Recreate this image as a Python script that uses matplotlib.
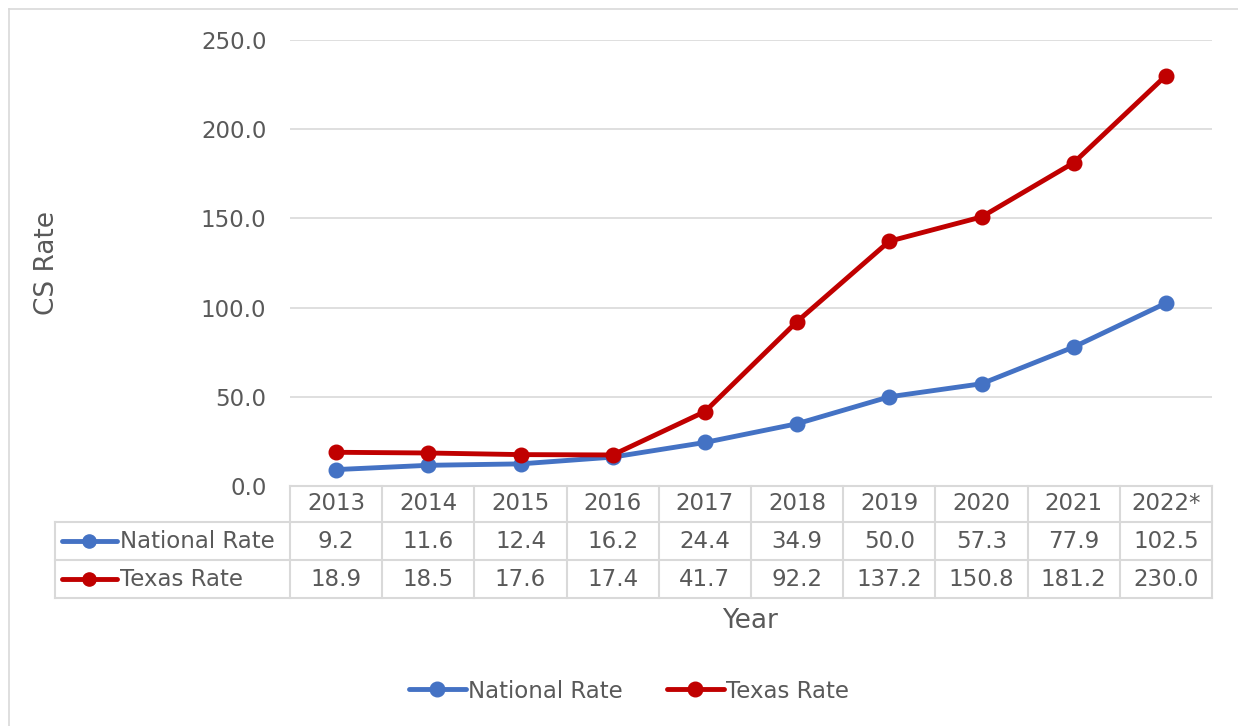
import matplotlib.pyplot as plt
import matplotlib.transforms as mtrans
from matplotlib.lines import Line2D

years = ["2013", "2014", "2015", "2016", "2017", "2018", "2019", "2020", "2021", "2022*"]
national = [9.2, 11.6, 12.4, 16.2, 24.4, 34.9, 50.0, 57.3, 77.9, 102.5]
texas = [18.9, 18.5, 17.6, 17.4, 41.7, 92.2, 137.2, 150.8, 181.2, 230.0]
series = [("National Rate", national, "#4472C4"), ("Texas Rate", texas, "#C00000")]

TXT = "#595959"
GRID = "#D9D9D9"
FS = 16.5
plt.rcParams["font.family"] = ["DejaVu Sans"]

fig = plt.figure(figsize=(12.38, 7.26), dpi=100)
ax = fig.add_axes([290 / 1238, 1 - 486 / 726, 922 / 1238, 446 / 726])

x = list(range(len(years)))
for name, vals, col in series:
    ax.plot(x, vals, color=col, lw=3.5, marker="o", ms=10.5, label=name,
            solid_capstyle="round", zorder=3, clip_on=False)

ax.set_xlim(-0.5, len(years) - 0.5)
ax.set_ylim(0, 250)
ax.set_yticks(range(0, 251, 50))
ax.set_yticklabels([f"{v:.1f}" for v in range(0, 251, 50)], fontsize=FS, color=TXT)
ax.tick_params(axis="y", length=0, pad=17)
ax.set_xticks([])
ax.grid(axis="y", color=GRID, lw=1.2)
ax.set_axisbelow(True)
for s in ax.spines.values():
    s.set_visible(False)
ax.set_ylabel("CS Rate", fontsize=19, color=TXT, labelpad=0)
ax.yaxis.set_label_coords(-0.2495, 0.5)

# data table under the axes
tr = mtrans.blended_transform_factory(ax.transData, ax.transAxes)
px = 1 / 446
y_top, y_h, y_r1, y_r2 = 0, -36 * px, -74 * px, -112 * px
x0, x1 = -0.5, len(years) - 0.5
xl = x0 - 235 / 92.2
lk = dict(color=GRID, lw=1.5, transform=tr, clip_on=False)
ax.plot([x0, x0], [y_top, y_r2], **lk)
for i in range(len(years)):
    ax.plot([i + 0.5, i + 0.5], [y_top, y_r2], **lk)
ax.plot([x0, x1], [y_top, y_top], **lk)
ax.plot([xl, x1], [y_h, y_h], **lk)
ax.plot([xl, x1], [y_r1, y_r1], **lk)
ax.plot([xl, x1], [y_r2, y_r2], **lk)
ax.plot([xl, xl], [y_h, y_r2], **lk)

for i, yr in enumerate(years):
    ax.text(i, (y_top + y_h) / 2, yr, ha="center", va="center", fontsize=FS, color=TXT, transform=tr)
rows = [(y_h, y_r1), (y_r1, y_r2)]
for (name, vals, col), (ya, yb) in zip(series, rows):
    yc = (ya + yb) / 2
    for i, v in enumerate(vals):
        ax.text(i, yc, f"{v:.1f}", ha="center", va="center", fontsize=FS, color=TXT, transform=tr)
    ax.add_line(Line2D([xl + 7 / 92.2, xl + 62 / 92.2], [yc, yc], color=col, lw=3.5,
                       transform=tr, clip_on=False, solid_capstyle="round"))
    ax.add_line(Line2D([xl + 34 / 92.2], [yc], color=col, marker="o", ms=9.5,
                       transform=tr, clip_on=False))
    ax.text(xl + 65 / 92.2, yc, name, ha="left", va="center", fontsize=FS, color=TXT, transform=tr)

fig.text(750 / 1238, 1 - 621 / 726, "Year", ha="center", va="center", fontsize=19, color=TXT)

leg = fig.legend(loc="center", bbox_to_anchor=(629 / 1238, 1 - 691 / 726), ncol=2,
                 frameon=False, fontsize=FS, handlelength=2.5, handletextpad=0.1,
                 columnspacing=1.9)
for t in leg.get_texts():
    t.set_color(TXT)

# outer chart border
fig.add_artist(Line2D([9 / 1238, 9 / 1238], [0, 1 - 9 / 726], color=GRID, lw=1.2))
fig.add_artist(Line2D([9 / 1238, 1], [1 - 9 / 726, 1 - 9 / 726], color=GRID, lw=1.2))

fig.savefig("out.png", dpi=100)
